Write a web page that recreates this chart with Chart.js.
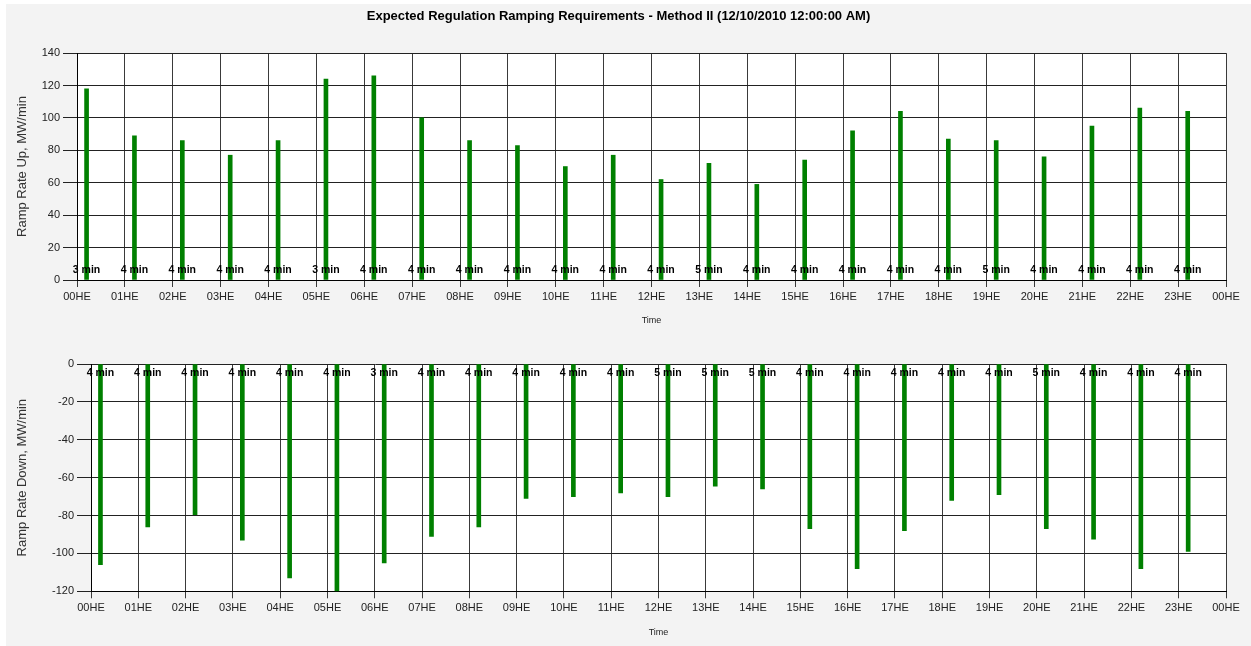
<!DOCTYPE html>
<html>
<head>
<meta charset="utf-8">
<title>Expected Regulation Ramping Requirements</title>
<script src="https://cdn.jsdelivr.net/npm/chart.js@4"></script>
<style>
  body { margin: 0; background: #fff; }
  #frame { position: absolute; left: 6px; top: 4px; width: 1245px; height: 642px; background: #f3f3f3; }
  #up { position: absolute; left: 0; top: 0; }
  #down { position: absolute; left: 0; top: 332px; }
</style>
</head>
<body>
<div id="frame">
  <canvas id="up" width="1245" height="330"></canvas>
  <canvas id="down" width="1245" height="310"></canvas>
</div>
<script>
const hours = ['00HE', '01HE', '02HE', '03HE', '04HE', '05HE', '06HE', '07HE', '08HE', '09HE', '10HE', '11HE',
  '12HE', '13HE', '14HE', '15HE', '16HE', '17HE', '18HE', '19HE', '20HE', '21HE', '22HE', '23HE'];

// MW/min
const rampUp = [118, 89, 86, 77, 86, 124, 126, 100, 86, 83, 70, 77, 62, 72, 59, 74, 92, 104, 87, 86, 76, 95, 106, 104];
const rampDown = [-106, -86, -79.5, -93, -113, -120, -105, -91, -86, -71, -70, -68, -70, -64.5, -66, -87, -108, -88, -72, -69, -87, -92.5, -108, -99];

// interval labels drawn at the foot of each bar
const upMinutes = [3, 4, 4, 4, 4, 3, 4, 4, 4, 4, 4, 4, 4, 5, 4, 4, 4, 4, 4, 5, 4, 4, 4, 4];
const downMinutes = [4, 4, 4, 4, 4, 4, 3, 4, 4, 4, 4, 4, 5, 5, 5, 4, 4, 4, 4, 4, 5, 4, 4, 4];

Chart.defaults.font.family = '"Liberation Sans", Arial, sans-serif';
Chart.defaults.animation = false;

// white plot area on the grey frame
const plotBg = {
  id: 'plotBg',
  beforeDraw(chart) {
    const { ctx, chartArea: a } = chart;
    ctx.save();
    ctx.fillStyle = '#fff';
    ctx.fillRect(a.left, a.top, a.right - a.left, a.bottom - a.top);
    ctx.restore();
  }
};

const minuteLabels = {
  id: 'minuteLabels',
  afterDatasetsDraw(chart, args, opts) {
    const { ctx, scales: { y } } = chart;
    const yy = y.getPixelForValue(0) + opts.dy;
    ctx.save();
    ctx.font = 'bold 10.5px "Liberation Sans", Arial, sans-serif';
    ctx.fillStyle = '#000';
    ctx.textAlign = 'center';
    ctx.textBaseline = 'middle';
    chart.getDatasetMeta(0).data.forEach((bar, i) => {
      ctx.fillText(opts.minutes[i] + ' min', bar.x, yy);
    });
    ctx.restore();
  }
};

function rampChart(id, values, minutes, cfg) {
  return new Chart(document.getElementById(id), {
    type: 'bar',
    data: {
      datasets: [{
        data: values.map((v, i) => ({ x: i + 0.2, y: v })),
        backgroundColor: '#008000',
        borderWidth: 0,
        barThickness: 4,
        grouped: false
      }]
    },
    options: {
      responsive: false,
      layout: { padding: { left: 5, right: 25, top: cfg.top, bottom: 0 } },
      plugins: {
        legend: { display: false },
        tooltip: { enabled: false },
        title: cfg.title ? {
          display: true,
          text: cfg.title,
          color: '#000',
          font: { size: 13, weight: 'bold' },
          padding: { top: 5, bottom: 28.5 }
        } : { display: false },
        minuteLabels: { minutes: minutes, dy: cfg.dy }
      },
      scales: {
        x: {
          type: 'linear',
          min: 0,
          max: 24,
          offset: false,
          grid: { color: '#3a3a3a', tickLength: 7, offset: false },
          border: { color: '#000' },
          ticks: {
            stepSize: 1,
            maxTicksLimit: 30,
            autoSkip: false,
            maxRotation: 0,
            padding: 3,
            color: '#222',
            font: { size: 11 },
            callback: v => hours[v % 24]
          },
          title: { display: true, text: 'Time', color: '#222', font: { size: 9 }, padding: { top: 4, bottom: 8 } },
          afterFit: s => { s.height = cfg.xHeight; }
        },
        y: {
          min: cfg.min,
          max: cfg.max,
          grid: { color: '#222', tickLength: 14 },
          border: { color: '#000' },
          ticks: { stepSize: 20, padding: 3, color: '#222', font: { size: 11 } },
          title: { display: true, text: cfg.yTitle, color: '#333', font: { size: 13 }, padding: { top: 4, bottom: 4 } },
          afterFit: s => { s.width = cfg.yWidth; }
        }
      }
    },
    plugins: [plotBg, minuteLabels]
  });
}

rampChart('up', rampUp, upMinutes, {
  title: 'Expected Regulation Ramping Requirements - Method II (12/10/2010 12:00:00 AM)',
  yTitle: 'Ramp Rate Up, MW/min',
  min: 0, max: 140, top: 0, dy: -10, yWidth: 66, xHeight: 54
});

rampChart('down', rampDown, downMinutes, {
  yTitle: 'Ramp Rate Down, MW/min',
  min: -120, max: 0, top: 28, dy: 9, yWidth: 80, xHeight: 54.7
});
</script>
</body>
</html>
